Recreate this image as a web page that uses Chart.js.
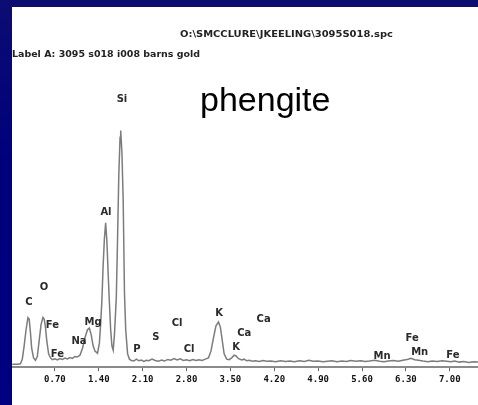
<!DOCTYPE html>
<html>
<head>
<meta charset="utf-8">
<script src="https://cdn.jsdelivr.net/npm/chart.js@4"></script>
<style>
  html, body { margin: 0; padding: 0; }
  body {
    width: 478px; height: 405px; overflow: hidden;
    background: linear-gradient(180deg, #0c0c72 0%, #00007c 40%, #000080 100%);
    position: relative;
  }
  #sheet {
    position: absolute; left: 12px; top: 7px;
    width: 466px; height: 398px; background: #fff;
  }
</style>
</head>
<body>
<div id="sheet"><canvas id="spectrum"></canvas></div>
<script>
/* ─────────────────────────────────────────────
   Spectrum data (keV vs counts)
───────────────────────────────────────────── */
const energyKeV = [
  0.02, 0.10, 0.15, 0.18, 0.21, 0.24, 0.27, 0.29, 0.31, 0.33, 0.36, 0.39,
  0.42, 0.45, 0.48, 0.51, 0.53, 0.55, 0.57, 0.60, 0.63, 0.66, 0.70, 0.74,
  0.78, 0.82, 0.86, 0.90, 0.94, 0.98, 1.02, 1.06, 1.10, 1.14, 1.18, 1.22,
  1.25, 1.28, 1.31, 1.34, 1.38, 1.41, 1.43, 1.45, 1.47, 1.49, 1.51, 1.53,
  1.55, 1.57, 1.59, 1.61, 1.63, 1.65, 1.68, 1.70, 1.72, 1.74, 1.75, 1.77,
  1.79, 1.81, 1.83, 1.86, 1.89, 1.92, 1.96, 2.00, 2.04, 2.08, 2.12, 2.16,
  2.20, 2.25, 2.30, 2.35, 2.40, 2.45, 2.50, 2.55, 2.60, 2.65, 2.70, 2.75,
  2.80, 2.85, 2.90, 2.95, 3.00, 3.05, 3.10, 3.15, 3.19, 3.23, 3.27, 3.31,
  3.34, 3.37, 3.40, 3.44, 3.48, 3.52, 3.56, 3.59, 3.63, 3.68, 3.72, 3.76,
  3.80, 3.85, 3.90, 3.96, 4.02, 4.08, 4.15, 4.22, 4.30, 4.38, 4.45, 4.52,
  4.60, 4.68, 4.75, 4.82, 4.90, 4.98, 5.05, 5.12, 5.20, 5.28, 5.35, 5.42,
  5.50, 5.58, 5.65, 5.72, 5.80, 5.88, 5.95, 6.02, 6.10, 6.18, 6.25, 6.32,
  6.38, 6.44, 6.50, 6.57, 6.65, 6.72, 6.80, 6.88, 6.95, 7.02, 7.08, 7.15,
  7.22, 7.30, 7.38, 7.45
];
const counts = [
  1.1, 1.1, 1.3, 3.0, 8.0, 14.0, 18.5, 18.0, 13.0, 7.0, 3.5, 2.6,
  4.0, 10.0, 16.0, 18.6, 18.0, 15.0, 10.0, 5.0, 3.5, 2.8, 3.1, 2.7,
  3.2, 2.9, 3.4, 3.1, 3.6, 3.3, 4.0, 3.8, 4.5, 7.0, 11.0, 14.0,
  14.6, 12.0, 8.0, 6.0, 5.2, 9.0, 16.0, 25.0, 38.0, 48.0, 54.0, 47.0,
  35.0, 24.0, 14.0, 8.0, 6.4, 12.0, 26.0, 48.0, 72.0, 86.0, 88.5, 80.0,
  62.0, 28.0, 14.0, 5.0, 3.0, 2.5, 2.3, 3.0, 2.4, 2.7, 2.2, 2.6,
  2.4, 3.0, 2.5, 2.2, 2.7, 2.3, 2.9, 2.6, 3.2, 2.7, 3.1, 2.5,
  2.8, 2.4, 2.9, 2.5, 2.8, 2.5, 3.0, 3.5, 6.0, 11.0, 15.5, 16.9,
  15.0, 10.0, 5.0, 3.0, 2.8, 3.5, 4.5, 4.2, 3.2, 2.7, 3.0, 2.4,
  2.6, 2.2, 2.4, 2.1, 2.5, 2.2, 2.3, 2.0, 2.4, 2.1, 2.3, 2.0,
  2.4, 2.1, 2.6, 2.2, 2.3, 2.0, 2.2, 2.4, 2.0, 2.3, 2.1, 2.5,
  2.2, 2.4, 2.1, 2.3, 2.6, 2.2, 2.0, 2.3, 2.5, 2.2, 2.6, 2.9,
  3.3, 2.8, 2.6, 2.3, 2.0, 2.3, 2.1, 2.4, 2.2, 2.0, 2.3, 1.9,
  2.1, 1.8, 2.0, 1.9
];

const tickValues = [0.7, 1.4, 2.1, 2.8, 3.5, 4.2, 4.9, 5.6, 6.3, 7.0];

// Element line labels: name, energy (keV), height (counts)
const peakNames  = ['Si', 'Al', 'C', 'O', 'Fe', 'Fe', 'Na', 'Mg', 'P', 'S', 'Cl', 'Cl', 'K', 'K', 'Ca', 'Ca', 'Mn', 'Fe', 'Mn', 'Fe'];
const peakKeV    = [1.77, 1.515, 0.287, 0.526, 0.66, 0.74, 1.085, 1.31, 2.01, 2.31, 2.65, 2.84, 3.32, 3.59, 3.72, 4.03, 5.92, 6.40, 6.52, 7.05];
const peakLevels = [100, 57.7, 24.3, 30, 15.7, 4.9, 9.7, 16.9, 6.7, 11.2, 16.5, 6.7, 20.2, 7.5, 12.7, 18, 4.1, 10.9, 5.6, 4.5];

const headerPath  = 'O:\\SMCCLURE\\JKEELING\\3095S018.spc';
const headerLabel = 'Label A: 3095 s018 i008 barns gold';
const titleText   = 'phengite';

/* ─────────────────────────────────────────────
   Plugins: header text + peak labels
───────────────────────────────────────────── */
const labelFont = 'bold 10px "DejaVu Sans", sans-serif';

// draw text stretched to a given width (the original uses a wide bitmap font)
function fitText(ctx, text, x, y, width) {
  const w = ctx.measureText(text).width;
  ctx.save();
  ctx.translate(x, y);
  ctx.scale(width / w, 1);
  ctx.fillText(text, 0, 0);
  ctx.restore();
}

const headerPlugin = {
  id: 'header',
  afterDraw(chart) {
    const ctx = chart.ctx;
    ctx.save();
    ctx.fillStyle = '#222';
    ctx.textBaseline = 'middle';
    ctx.textAlign = 'left';
    ctx.font = 'bold 9px "DejaVu Sans", sans-serif';
    fitText(ctx, headerPath, 168, 28, 213);
    fitText(ctx, headerLabel, 0, 48, 188);
    ctx.fillStyle = '#000';
    ctx.font = '34px "Liberation Sans", Arial, sans-serif';
    ctx.textBaseline = 'alphabetic';
    ctx.fillText(titleText, 188, 104);
    ctx.restore();
  }
};

const peakLabelPlugin = {
  id: 'peakLabels',
  afterDatasetsDraw(chart) {
    const { ctx, scales: { x, y } } = chart;
    ctx.save();
    ctx.font = labelFont;
    ctx.fillStyle = '#2a2a2a';
    ctx.textAlign = 'center';
    ctx.textBaseline = 'middle';
    peakNames.forEach((name, i) => {
      ctx.fillText(name, x.getPixelForValue(peakKeV[i]), y.getPixelForValue(peakLevels[i]));
    });
    ctx.restore();
  }
};

/* ─────────────────────────────────────────────
   Chart
───────────────────────────────────────────── */
new Chart(document.getElementById('spectrum'), {
  type: 'line',
  data: {
    datasets: [{
      data: energyKeV.map((e, i) => ({ x: e, y: counts[i] })),
      borderColor: '#7c7c7c',
      borderWidth: 1.5,
      pointRadius: 0,
      tension: 0,
      fill: false,
    }]
  },
  options: {
    responsive: true,
    maintainAspectRatio: false,
    animation: false,
    layout: { padding: { top: 66, bottom: 17, left: 0, right: 0 } },
    plugins: { legend: { display: false }, tooltip: { enabled: false } },
    scales: {
      x: {
        type: 'linear',
        min: 0.016,
        max: 7.45,
        afterBuildTicks: (axis) => { axis.ticks = tickValues.map(v => ({ value: v })); },
        grid: { drawOnChartArea: false, drawTicks: true, tickLength: 4, color: '#666', lineWidth: 1 },
        border: { display: true, color: '#8a8a8a', width: 2 },
        ticks: {
          autoSkip: false,
          maxRotation: 0,
          padding: 3,
          color: '#111',
          font: { family: '"DejaVu Sans Mono", monospace', size: 9, weight: 'bold' },
          callback: (v) => Number(v).toFixed(2)
        }
      },
      y: {
        display: false,
        min: 0,
        max: 110
      }
    }
  },
  plugins: [headerPlugin, peakLabelPlugin]
});
</script>
</body>
</html>
